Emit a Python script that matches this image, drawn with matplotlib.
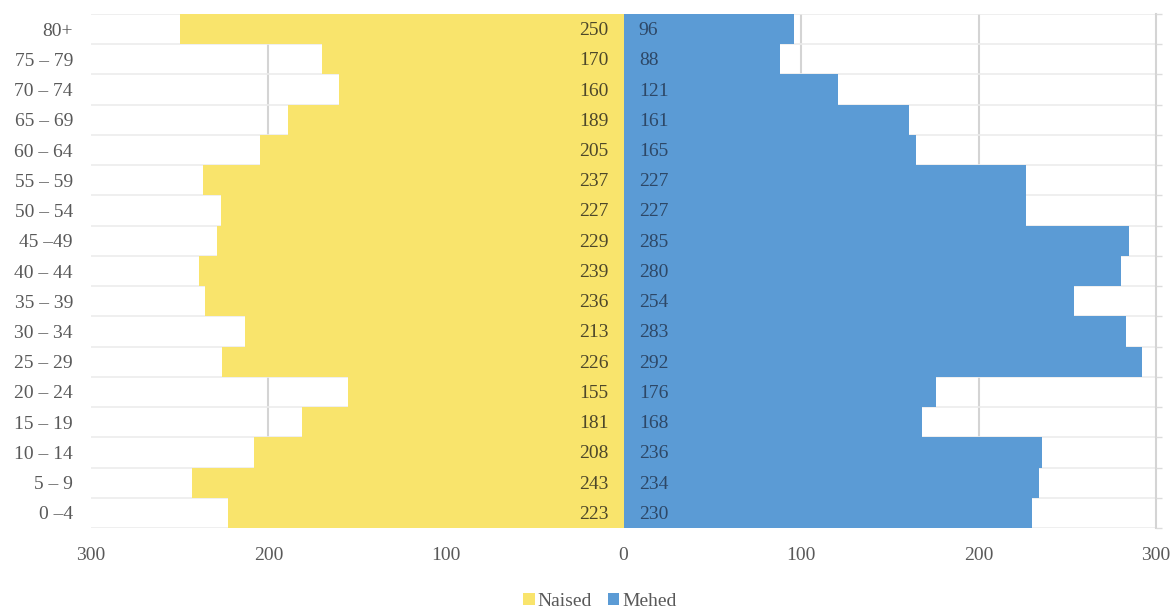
import matplotlib
matplotlib.use("Agg")
import matplotlib.pyplot as plt
from matplotlib.patches import Patch
import numpy as np

age_groups = ["0 –4", "5 – 9", "10 – 14", "15 – 19", "20 – 24", "25 – 29", "30 – 34",
              "35 – 39", "40 – 44", "45 –49", "50 – 54", "55 – 59", "60 – 64",
              "65 – 69", "70 – 74", "75 – 79", "80+"]
naised = [223, 243, 208, 181, 155, 226, 213, 236, 239, 229, 227, 237, 205, 189, 160, 170, 250]
mehed = [230, 234, 236, 168, 176, 292, 283, 254, 280, 285, 227, 227, 165, 161, 121, 88, 96]
x_ticks = [-300, -200, -100, 0, 100, 200, 300]
x_tick_labels = ["300", "200", "100", "0", "100", "200", "300"]

YELLOW = "#F9E46C"
BLUE = "#5B9BD5"
TXT = "#595959"
plt.rcParams['font.family'] = ['Liberation Serif', 'DejaVu Serif']

fig = plt.figure(figsize=(11.74, 6.10), dpi=100)
ax = fig.add_axes([0.0775, 0.1344, 0.9072, 0.8426])

y = np.arange(len(age_groups))
n = len(age_groups)

ax.set_xlim(-300, 300)
ax.set_ylim(-0.5, n - 0.5)

# gridlines
for gx in [-200, -100, 100, 200]:
    ax.axvline(gx, color="#d4d4d4", lw=1.5, zorder=0)
ax.hlines(np.arange(n + 1) - 0.5, -300, 300, color="#ececec", lw=1.2, zorder=0)

ax.barh(y, [-v for v in naised], height=1.0, color=YELLOW, zorder=2, linewidth=0)
ax.barh(y, mehed, height=1.0, color=BLUE, zorder=2, linewidth=0)

for yi, v in zip(y, naised):
    ax.annotate(str(v), (0, yi), xytext=(-11, -1), textcoords="offset points",
                ha="right", va="center", fontsize=14, color="#4d472a", zorder=3)
for yi, v in zip(y, mehed):
    ax.annotate(str(v), (0, yi), xytext=(11, -1), textcoords="offset points",
                ha="left", va="center", fontsize=14, color="#2d4766", zorder=3)

ax.set_xticks(x_ticks)
ax.set_xticklabels(x_tick_labels, fontsize=14, color=TXT)
ax.set_yticks(y)
ax.set_yticklabels(age_groups, fontsize=14, color=TXT)
ax.tick_params(axis="x", length=0, pad=14)
ax.tick_params(axis="y", length=0, pad=13)

for s in ["top", "left", "bottom"]:
    ax.spines[s].set_visible(False)
ax.spines["right"].set_color("#d4d4d4")
ax.spines["right"].set_linewidth(1.5)

# small outward ticks on the right spine at category boundaries
ax2 = ax.twinx()
ax2.set_ylim(ax.get_ylim())
ax2.set_yticks(np.arange(n + 1) - 0.5)
ax2.set_yticklabels([])
ax2.tick_params(axis="y", length=4, color="#dcdcdc", width=1.0, direction="out")
for s in ["top", "left", "bottom", "right"]:
    ax2.spines[s].set_visible(False)

handles = [Patch(facecolor=YELLOW, edgecolor="none", label="Naised"),
           Patch(facecolor=BLUE, edgecolor="none", label="Mehed")]
fig.legend(handles=handles, loc="center", bbox_to_anchor=(0.511, 0.014), ncol=2,
           frameon=False, fontsize=14, handlelength=0.6, handleheight=0.6,
           handletextpad=0.15, columnspacing=0.8, labelcolor=TXT)

fig.savefig("out.png", dpi=100)
